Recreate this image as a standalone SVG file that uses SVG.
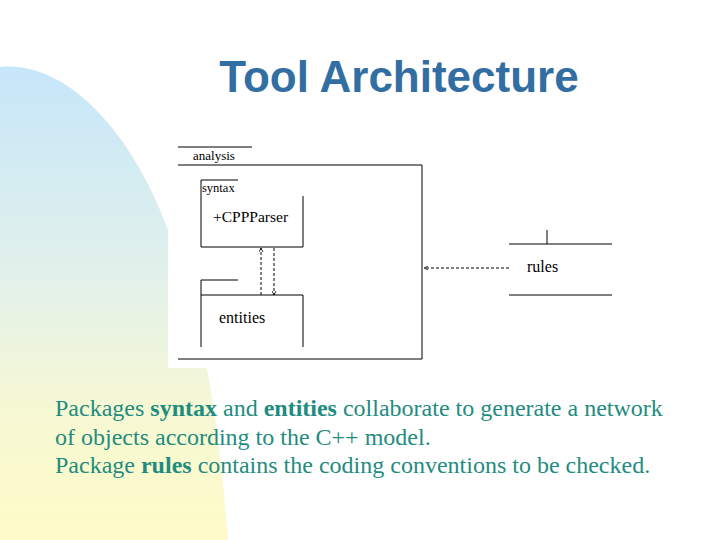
<svg xmlns="http://www.w3.org/2000/svg" width="720" height="540" viewBox="0 0 720 540">
  <defs>
    <linearGradient id="bg" x1="0" y1="65" x2="0" y2="540" gradientUnits="userSpaceOnUse">
      <stop offset="0" stop-color="#c6e6fa"/>
      <stop offset="0.45" stop-color="#e2f1ea"/>
      <stop offset="0.72" stop-color="#f6f8d4"/>
      <stop offset="1" stop-color="#fffbc8"/>
    </linearGradient>
    <marker id="open" viewBox="0 0 10 10" refX="9" refY="5" markerWidth="5" markerHeight="5" orient="auto" markerUnits="userSpaceOnUse">
      <path d="M1,1 L9,5 L1,9" fill="none" stroke="#000" stroke-width="1.6"/>
    </marker>
    <style>
      .ln { stroke: #000; stroke-width: 1; fill: none; }
      .dash { stroke: #000; stroke-width: 1; fill: none; stroke-dasharray: 3 2; }
      .lbl { font-family: "Liberation Serif", "Times New Roman", serif; fill: #000; }
      .body { font-family: "Liberation Serif", "Times New Roman", serif; font-size: 24px; fill: #1f8c80; }
      .title { font-family: "Liberation Sans", Arial, sans-serif; font-size: 44px; font-weight: bold; fill: #336ea2; }
    </style>
  </defs>
  <rect width="720" height="540" fill="#fff"/>
  <path d="M0,67 C70,60 140,140 175,250 C205,330 220,430 228,540 L0,540 Z" fill="url(#bg)"/>
  <rect x="168" y="135" width="262" height="233" fill="#fff"/>

  <text class="title" x="399" y="92" text-anchor="middle">Tool Architecture</text>

  <g id="analysis">
    <path class="ln" d="M178,147 H252 M178,165 H422 V359 H178"/>
    <text class="lbl" x="193" y="160" font-size="13">analysis</text>
  </g>
  <g id="syntax">
    <path class="ln" d="M201,180 H238 M201,180 V247 H303 V196"/>
    <text class="lbl" x="202" y="192" font-size="12.5">syntax</text>
    <text class="lbl" x="213" y="222" font-size="15.5">+CPPParser</text>
  </g>
  <g id="entities">
    <path class="ln" d="M201,280 H238 M201,347 V280 M201,295 H303 V347"/>
    <text class="lbl" x="219" y="323" font-size="16">entities</text>
  </g>
  <g id="rules">
    <path class="ln" d="M547,230 V244 M509,244 H612 M509,295 H612"/>
    <text class="lbl" x="527" y="272" font-size="16">rules</text>
  </g>
  <g id="connectors">
    <line class="dash" x1="261" y1="295" x2="261" y2="248" marker-end="url(#open)"/>
    <line class="dash" x1="274" y1="248" x2="274" y2="295" marker-end="url(#open)"/>
    <line class="dash" x1="509" y1="268" x2="424" y2="268" marker-end="url(#open)"/>
  </g>

  <g id="caption">
    <text class="body" x="55" y="416">Packages <tspan font-weight="bold">syntax</tspan> and <tspan font-weight="bold">entities</tspan> collaborate to generate a network</text>
    <text class="body" x="55" y="445">of objects according to the C++ model.</text>
    <text class="body" x="55" y="473">Package <tspan font-weight="bold">rules</tspan> contains the coding conventions to be checked.</text>
  </g>
</svg>
